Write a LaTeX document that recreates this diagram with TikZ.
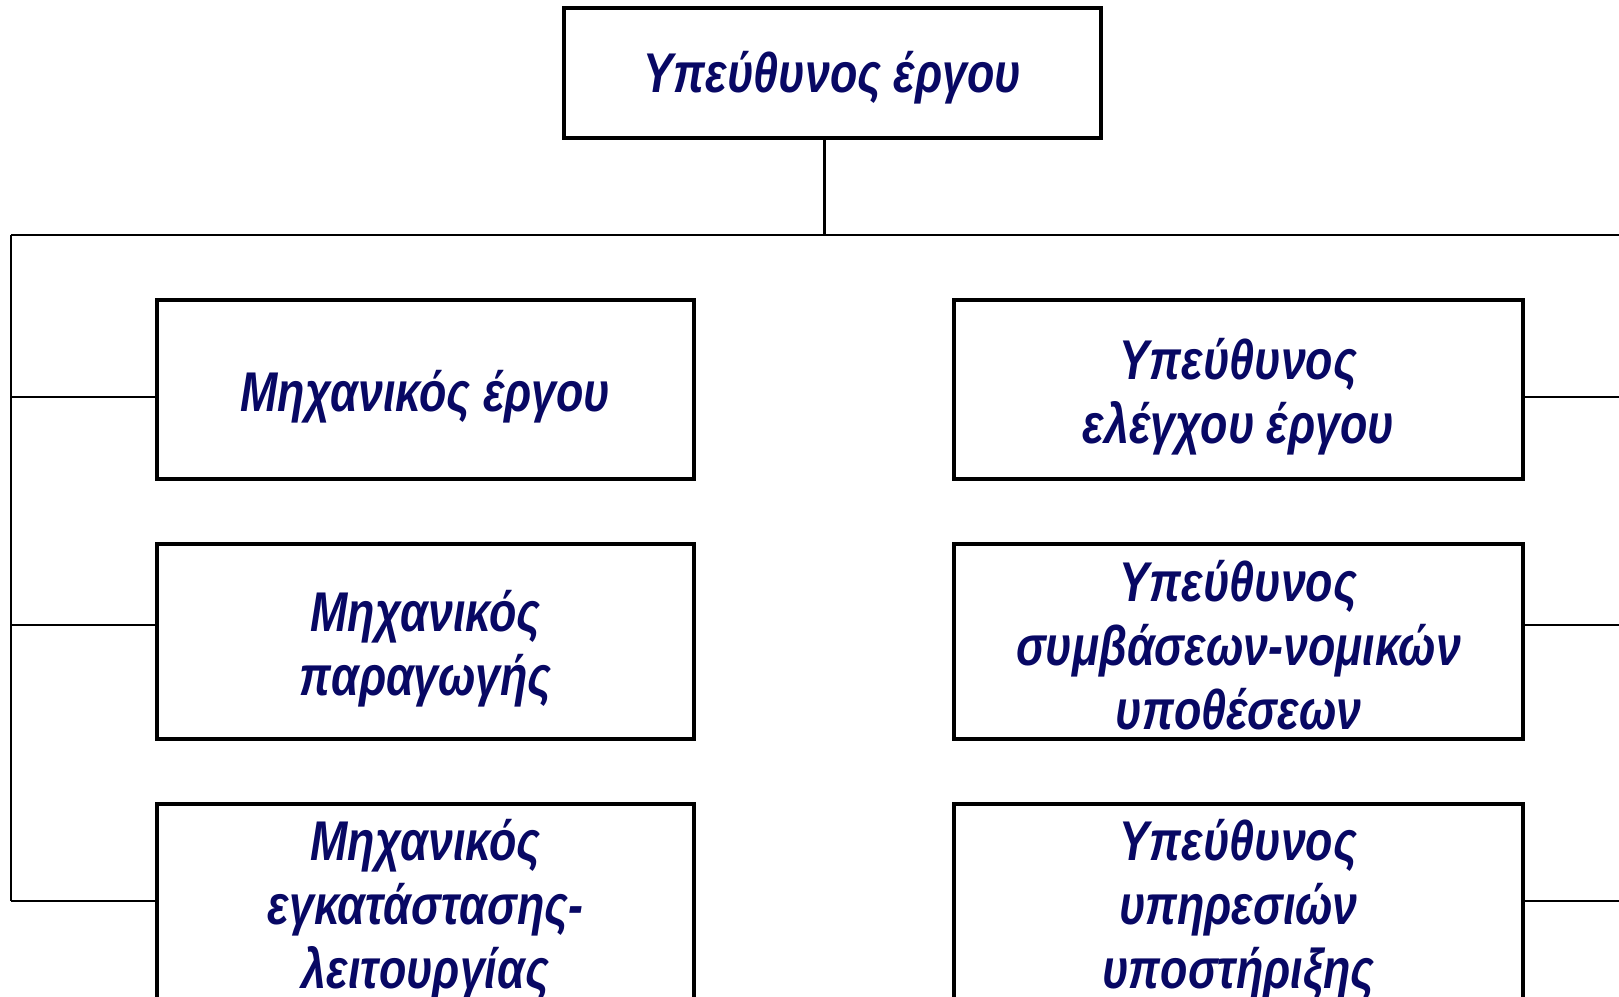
\documentclass[tikz,border=0pt]{standalone}
\usepackage{fontspec}
\setmainfont{Liberation Sans}[FakeStretch=0.8]
\definecolor{navytext}{RGB}{8,8,100}
\begin{document}
\begin{tikzpicture}[x=1pt,y=-1pt,
    post/.style ={rectangle, draw, line width=3.5pt, inner sep=0pt},
    title/.style ={align=center, inner sep=0pt, text=navytext,
      font=\fontsize{56}{64}\selectfont\bfseries\itshape},
    link/.style ={line width=2.2pt}]
   \useasboundingbox[clip] (0,0) rectangle (1619,996);
   \node[post, minimum width=537, minimum height=130,
     label={[title, yshift=-5]center:Υπεύθυνος έργου}] (A) at (832.5,73) {};

   \node[post, minimum width=537, minimum height=179,
     label={[title, yshift=-7]center:Μηχανικός έργου}] (B) at (425.5,389.5) {};
   \node[post, minimum width=537, minimum height=195,
     label={[title, yshift=-7]center:Μηχανικός\\παραγωγής}] (C) at (425.5,641.5) {};
   \node[post, minimum width=537, minimum height=212,
     label={[title]center:Μηχανικός\\εγκατάστασης-\\λειτουργίας}] (D) at (425.5,910) {};

   \node[post, minimum width=569, minimum height=179,
     label={[title, yshift=-7]center:Υπεύθυνος\\ελέγχου έργου}] (E) at (1238.5,389.5) {};
   \node[post, minimum width=569, minimum height=195,
     label={[title, yshift=-4]center:Υπεύθυνος\\συμβάσεων-νομικών\\υποθέσεων}] (F) at (1238.5,641.5) {};
   \node[post, minimum width=569, minimum height=212,
     label={[title]center:Υπεύθυνος\\υπηρεσιών\\υποστήριξης}] (G) at (1238.5,910) {};

   \coordinate (L) at (11,235);
   \coordinate (R) at (1640,235);

   \draw[link, line width=3pt] ([xshift=-8]A.south) to ([xshift=-8]A.south |- L);
   \draw[link] (L) to (R);
   \draw[link] (L) to ([yshift=9]L |- D.west);
   \draw[link] ([yshift=-7.5]L |- B.west) to ([yshift=-7.5]B.west);
   \draw[link] ([yshift=16.5]L |- C.west) to ([yshift=16.5]C.west);
   \draw[link] ([yshift=9]L |- D.west) to ([yshift=9]D.west);
   \draw[link] ([yshift=-7.5]E.east) to ([yshift=-7.5]E.east -| R);
   \draw[link] ([yshift=16.5]F.east) to ([yshift=16.5]F.east -| R);
   \draw[link] ([yshift=9]G.east) to ([yshift=9]G.east -| R);
 \end{tikzpicture}
\end{document}
